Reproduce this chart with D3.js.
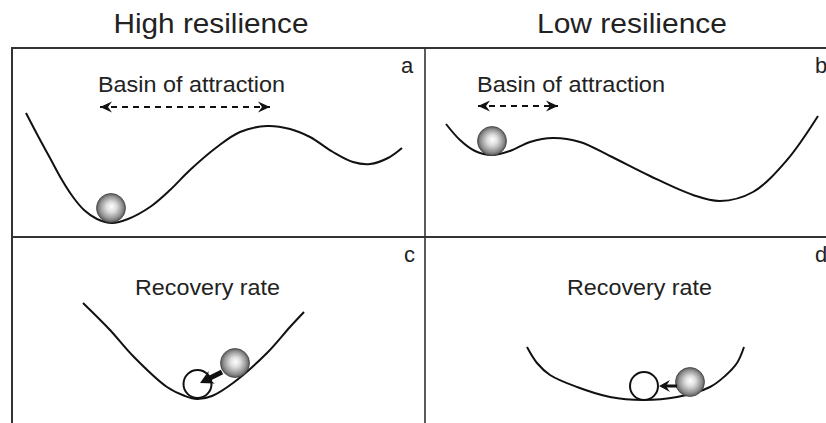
<!DOCTYPE html>
<html>
<head>
<meta charset="utf-8">
<script src="https://cdn.jsdelivr.net/npm/d3@7"></script>
<style>
  body { margin: 0; background: #fff; }
  svg { display: block; }
  text { font-family: "Liberation Sans", Arial, Helvetica, sans-serif; fill: #222; }
</style>
</head>
<body>
<div id="chart"></div>
<script>
// text content
var columnTitles = ["High resilience", "Low resilience"];
var panelLetters = ["a", "b", "c", "d"];
var panelCaptions = ["Basin of attraction", "Basin of attraction", "Recovery rate", "Recovery rate"];

// landscapes as [state, potential] pairs
var landscapeA = [[14,124],[26,101],[38,79],[50,57],[61,40],[72,27],[85,18],[100,14],[116,18],[138,30],
  [158,47],[178,67],[205,90],[228,105],[255,111],[278,108],[298,100],[321,85],[341,75],[358,73],[376,79],[390,89]];
var landscapeB = [[21,113],[35,97],[50,86],[67,82],[85,86],[105,95],[128,99],[155,95],[185,81],[225,61],
  [268,42],[295,36],[328,45],[362,77],[393,121]];
var landscapeC = [[71,123],[98,96],[121,70],[155,39],[173,30],[185,27],[200,30],[221,43],[255,73],[278,99],[292,114]];
var landscapeD = [[102,79],[112,63],[125,51],[152,39],[185,29],[218,26],[252,29],[285,39],[300,50],[312,63],[319,79]];

// balls (current state) and empty circles (equilibrium)
var ballStates = [[99,29],[67,96],[223,63],[265,44]];
var equilibria = [null, null, [185.5,42], [219,40]];

// basin arrows: [from, to, level]
var basinSpans = [[88,258,130],[53,133,131]];
// recovery arrows: [fromState, fromPot, toState, toPot]
var recoveryArrows = [[210,54,188,43],[252,40,234,40]];

var svgWidth = 826, svgHeight = 423;
var left = 12, top0 = 48, midX = 425, midY = 237;
var panelW = 413, panelH = 189;

var svg = d3.select("#chart").append("svg")
  .attr("width", svgWidth).attr("height", svgHeight);

var defs = svg.append("defs");
var grad = defs.append("radialGradient").attr("id", "ballGrad")
  .attr("cx", "50%").attr("cy", "50%").attr("r", "52%")
  .attr("fx", "52%").attr("fy", "45%");
grad.append("stop").attr("offset", "0%").attr("stop-color", "#ffffff");
grad.append("stop").attr("offset", "35%").attr("stop-color", "#dcdcdc");
grad.append("stop").attr("offset", "75%").attr("stop-color", "#929292");
grad.append("stop").attr("offset", "100%").attr("stop-color", "#505050");

defs.append("marker").attr("id", "head")
  .attr("viewBox", "-13 -6 14 12").attr("refX", 0).attr("refY", 0)
  .attr("markerWidth", 14).attr("markerHeight", 12)
  .attr("markerUnits", "userSpaceOnUse")
  .attr("orient", "auto-start-reverse")
  .append("path").attr("d", "M0,0 L-12,-5.5 L-8,0 L-12,5.5 Z").attr("fill", "#111");

// frame
var frame = svg.append("g").attr("stroke", "#333").attr("stroke-width", 2).attr("fill", "none");
frame.append("line").attr("x1", left).attr("x2", svgWidth + 5).attr("y1", top0).attr("y2", top0);
frame.append("line").attr("x1", left).attr("x2", svgWidth + 5).attr("y1", midY).attr("y2", midY);
frame.append("line").attr("x1", left).attr("x2", left).attr("y1", top0 - 1).attr("y2", svgHeight + 5);
frame.append("line").attr("x1", midX).attr("x2", midX).attr("y1", top0).attr("y2", svgHeight + 5)
  .attr("stroke-width", 1.6);

// column titles
var titleCenters = [211, 632], titleWidths = [195, 190];
columnTitles.forEach(function(t, i) {
  svg.append("text").attr("x", titleCenters[i]).attr("y", 33)
    .attr("text-anchor", "middle").attr("font-size", 27)
    .attr("textLength", titleWidths[i]).attr("lengthAdjust", "spacingAndGlyphs")
    .text(t);
});

var landscapes = [landscapeA, landscapeB, landscapeC, landscapeD];
var origins = [[left, top0], [midX, top0], [left, midY], [midX, midY]];
var letterX = [389, 390, 392, 390];
var captionX = [86, 52, 123, 142], captionY = [44, 44, 58, 58], captionW = [187, 188, 145, 145];

landscapes.forEach(function(pts, i) {
  var o = origins[i];
  var x = d3.scaleLinear().domain([0, panelW]).range([o[0], o[0] + panelW]);
  var y = d3.scaleLinear().domain([0, panelH]).range([o[1] + panelH, o[1]]);
  var g = svg.append("g");

  g.append("text").attr("x", x(letterX[i])).attr("y", o[1] + 25)
    .attr("font-size", 22).text(panelLetters[i]);

  g.append("text").attr("x", x(captionX[i])).attr("y", o[1] + captionY[i])
    .attr("font-size", 22)
    .attr("textLength", captionW[i]).attr("lengthAdjust", "spacingAndGlyphs")
    .text(panelCaptions[i]);

  var line = d3.line().x(d => x(d[0])).y(d => y(d[1])).curve(d3.curveCatmullRom.alpha(0.5));
  g.append("path").attr("d", line(pts))
    .attr("fill", "none").attr("stroke", "#111").attr("stroke-width", 2);

  if (i < 2) {
    var s = basinSpans[i];
    g.append("line").attr("x1", x(s[0])).attr("x2", x(s[1]))
      .attr("y1", y(s[2])).attr("y2", y(s[2]))
      .attr("stroke", "#111").attr("stroke-width", 2)
      .attr("stroke-dasharray", "6,5")
      .attr("marker-start", "url(#head)").attr("marker-end", "url(#head)");
  }

  if (equilibria[i]) {
    g.append("circle").attr("cx", x(equilibria[i][0])).attr("cy", y(equilibria[i][1]))
      .attr("r", 14).attr("fill", "#fff").attr("stroke", "#111").attr("stroke-width", 2);
  }

  var b = ballStates[i];
  g.append("circle").attr("cx", x(b[0])).attr("cy", y(b[1])).attr("r", 14.5)
    .attr("fill", "url(#ballGrad)").attr("stroke", "#444").attr("stroke-width", 0.8);

  if (i >= 2) {
    var r = recoveryArrows[i - 2];
    var x1 = x(r[0]), y1 = y(r[1]), x2 = x(r[2]), y2 = y(r[3]);
    var dx = x2 - x1, dy = y2 - y1, len = Math.sqrt(dx * dx + dy * dy);
    var ux = dx / len, uy = dy / len, px = -uy, py = ux;
    var hl = i == 2 ? 13 : 11, hw = i == 2 ? 7 : 6, sw = i == 2 ? 5 : 3;
    g.append("line").attr("x1", x1).attr("y1", y1)
      .attr("x2", x2 - ux * (hl - 4)).attr("y2", y2 - uy * (hl - 4))
      .attr("stroke", "#111").attr("stroke-width", sw);
    var bx = x2 - ux * hl, by = y2 - uy * hl, nx = x2 - ux * (hl - 4), ny = y2 - uy * (hl - 4);
    g.append("path")
      .attr("d", "M" + x2 + "," + y2 + "L" + (bx + px * hw) + "," + (by + py * hw) +
        "L" + nx + "," + ny + "L" + (bx - px * hw) + "," + (by - py * hw) + "Z")
      .attr("fill", "#111");
  }
});
</script>
</body>
</html>
